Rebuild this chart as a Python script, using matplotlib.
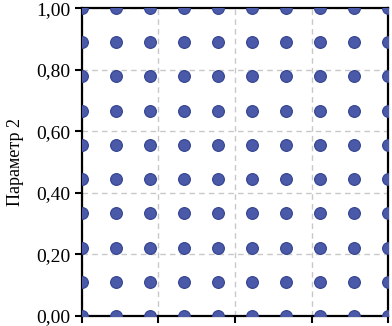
import numpy as np
import matplotlib
matplotlib.use('Agg')
import matplotlib.pyplot as plt

# grid of sample points (10 x 10)
x_vals = [0.0, 0.111, 0.222, 0.333, 0.444, 0.556, 0.667, 0.778, 0.889, 1.0]
y_vals = [0.0, 0.111, 0.222, 0.333, 0.444, 0.556, 0.667, 0.778, 0.889, 1.0]
y_ticks = [0.0, 0.2, 0.4, 0.6, 0.8, 1.0]
y_tick_labels = ['0,00', '0,20', '0,40', '0,60', '0,80', '1,00']
x_ticks = [0.0, 0.25, 0.5, 0.75, 1.0]

plt.rcParams['font.family'] = ['Liberation Serif', 'DejaVu Serif']

fig = plt.figure(figsize=(3.92, 3.26), dpi=100)
ax = fig.add_axes([0.209, 0.031, 0.781, 0.944])

xx, yy = np.meshgrid(x_vals, y_vals)
ax.scatter(xx.ravel(), yy.ravel(), s=72, color='#4a5aa8', edgecolors='#33428f',
           linewidths=0.8, zorder=3)

ax.set_xlim(0, 1)
ax.set_ylim(0, 1)
ax.set_xticks(x_ticks)
ax.set_xticklabels([])
ax.set_yticks(y_ticks)
ax.set_yticklabels(y_tick_labels, fontsize=14)
ax.set_ylabel('Параметр 2', fontsize=13, labelpad=9)

ax.grid(True, linestyle=(0, (4, 3)), color='#c8c8c8', linewidth=1.0, zorder=0)
for sp in ax.spines.values():
    sp.set_linewidth(1.6)
ax.tick_params(direction='out', length=5, width=1.5, pad=3)

fig.savefig('out.png', dpi=100)
